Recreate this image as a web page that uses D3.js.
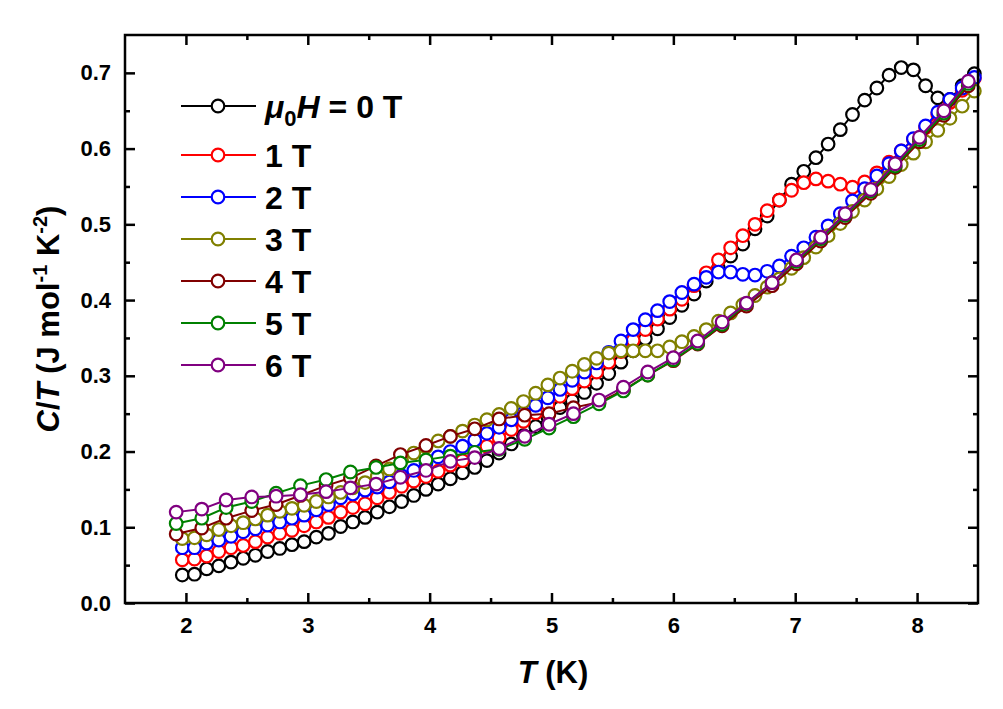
<!DOCTYPE html>
<html>
<head>
<meta charset="utf-8">
<script src="https://cdn.jsdelivr.net/npm/d3@7"></script>
<style>
  body { margin: 0; background: #fff; }
  text { font-family: "Liberation Sans", Arial, sans-serif; font-weight: bold; }
</style>
</head>
<body>
<svg id="chart" width="1003" height="709"></svg>
<script>
// temperatures (K): 0.1 K steps for 0-3 T, 0.2 K steps for 4-6 T
const tempsFine = [1.97, 2.07, 2.17, 2.27, 2.37, 2.47, 2.57, 2.67, 2.77, 2.87,
  2.97, 3.07, 3.17, 3.27, 3.37, 3.47, 3.57, 3.67, 3.77, 3.87,
  3.97, 4.07, 4.17, 4.27, 4.37, 4.47, 4.57, 4.67, 4.77, 4.87,
  4.97, 5.07, 5.17, 5.27, 5.37, 5.47, 5.57, 5.67, 5.77, 5.87,
  5.97, 6.07, 6.17, 6.27, 6.37, 6.47, 6.57, 6.67, 6.77, 6.87,
  6.97, 7.07, 7.17, 7.27, 7.37, 7.47, 7.57, 7.67, 7.77, 7.87,
  7.97, 8.07, 8.17, 8.27, 8.37, 8.47];
const tempsCoarse = [1.92, 2.13, 2.33, 2.54, 2.74, 2.94, 3.15, 3.35, 3.56, 3.76,
  3.97, 4.17, 4.37, 4.57, 4.78, 4.98, 5.18, 5.39, 5.59, 5.79,
  6.00, 6.20, 6.40, 6.60, 6.81, 7.01, 7.21, 7.41, 7.62, 7.82,
  8.02, 8.22, 8.42];

// C/T (J mol^-1 K^-2)
const ct0T = [0.037, 0.038, 0.045, 0.049, 0.054, 0.059, 0.063, 0.068, 0.072, 0.077,
  0.081, 0.087, 0.092, 0.101, 0.107, 0.113, 0.120, 0.127, 0.134, 0.142,
  0.150, 0.157, 0.164, 0.172, 0.179, 0.188, 0.198, 0.210, 0.221, 0.233,
  0.246, 0.258, 0.267, 0.278, 0.290, 0.303, 0.318, 0.333, 0.349, 0.362,
  0.377, 0.393, 0.408, 0.425, 0.442, 0.458, 0.474, 0.494, 0.511, 0.532,
  0.553, 0.570, 0.588, 0.606, 0.625, 0.645, 0.664, 0.680, 0.697, 0.707,
  0.704, 0.683, 0.667, 0.665, 0.683, 0.699];
const ct1T = [0.057, 0.058, 0.062, 0.068, 0.073, 0.076, 0.081, 0.087, 0.092, 0.096,
  0.102, 0.107, 0.113, 0.120, 0.126, 0.131, 0.139, 0.146, 0.154, 0.161,
  0.167, 0.174, 0.182, 0.188, 0.197, 0.207, 0.218, 0.229, 0.240, 0.251,
  0.262, 0.273, 0.283, 0.293, 0.305, 0.318, 0.332, 0.347, 0.361, 0.375,
  0.388, 0.401, 0.419, 0.436, 0.453, 0.469, 0.485, 0.500, 0.518, 0.532,
  0.545, 0.555, 0.560, 0.557, 0.553, 0.549, 0.556, 0.568, 0.582, 0.597,
  0.612, 0.628, 0.645, 0.661, 0.677, 0.693];
const ct2T = [0.073, 0.073, 0.079, 0.083, 0.088, 0.094, 0.098, 0.103, 0.107, 0.112,
  0.116, 0.123, 0.130, 0.139, 0.144, 0.149, 0.153, 0.160, 0.168, 0.175,
  0.185, 0.193, 0.200, 0.207, 0.215, 0.224, 0.232, 0.242, 0.251, 0.261,
  0.271, 0.282, 0.294, 0.305, 0.317, 0.331, 0.346, 0.361, 0.374, 0.386,
  0.398, 0.410, 0.421, 0.430, 0.437, 0.437, 0.434, 0.433, 0.438, 0.445,
  0.458, 0.469, 0.483, 0.498, 0.514, 0.531, 0.547, 0.564, 0.580, 0.597,
  0.613, 0.630, 0.648, 0.665, 0.680, 0.694];
const ct3T = [0.085, 0.086, 0.090, 0.097, 0.102, 0.106, 0.111, 0.116, 0.121, 0.125,
  0.129, 0.134, 0.140, 0.146, 0.152, 0.159, 0.167, 0.177, 0.188, 0.198,
  0.206, 0.214, 0.220, 0.227, 0.235, 0.242, 0.249, 0.257, 0.266, 0.277,
  0.288, 0.297, 0.306, 0.315, 0.323, 0.330, 0.333, 0.333, 0.333, 0.333,
  0.338, 0.345, 0.352, 0.361, 0.372, 0.383, 0.394, 0.406, 0.417, 0.428,
  0.442, 0.456, 0.470, 0.485, 0.501, 0.517, 0.532, 0.547, 0.563, 0.579,
  0.594, 0.609, 0.624, 0.640, 0.656, 0.676];
const ct4T = [0.091, 0.099, 0.112, 0.122, 0.130, 0.142, 0.155, 0.165, 0.181, 0.196,
  0.208, 0.220, 0.230, 0.243, 0.248, 0.250, 0.258, 0.265, 0.281, 0.301,
  0.320, 0.342, 0.366, 0.392, 0.419, 0.448, 0.478, 0.509, 0.541, 0.575,
  0.609, 0.644, 0.683];
const ct5T = [0.105, 0.112, 0.126, 0.134, 0.145, 0.155, 0.163, 0.173, 0.179, 0.185,
  0.189, 0.194, 0.199, 0.203, 0.216, 0.231, 0.246, 0.263, 0.280, 0.301,
  0.321, 0.343, 0.368, 0.395, 0.423, 0.451, 0.481, 0.512, 0.544, 0.577,
  0.612, 0.647, 0.686];
const ct6T = [0.120, 0.124, 0.136, 0.140, 0.141, 0.143, 0.147, 0.152, 0.157, 0.166,
  0.175, 0.187, 0.192, 0.204, 0.220, 0.236, 0.250, 0.268, 0.285, 0.305,
  0.324, 0.346, 0.371, 0.396, 0.423, 0.453, 0.483, 0.514, 0.546, 0.580,
  0.615, 0.650, 0.689];

const fieldLabels = ["0 T", "1 T", "2 T", "3 T", "4 T", "5 T", "6 T"];
const colors = ["#000000", "#ff0000", "#0000ff", "#808000", "#800000", "#008000", "#800080"];

const xTicks = [2, 3, 4, 5, 6, 7, 8];
const xMinor = [2.5, 3.5, 4.5, 5.5, 6.5, 7.5];
const yTicks = [0, 0.1, 0.2, 0.3, 0.4, 0.5, 0.6, 0.7];
const yMinor = [0.05, 0.15, 0.25, 0.35, 0.45, 0.55, 0.65];

const series = [
  { temps: tempsFine, vals: ct0T },
  { temps: tempsFine, vals: ct1T },
  { temps: tempsFine, vals: ct2T },
  { temps: tempsFine, vals: ct3T },
  { temps: tempsCoarse, vals: ct4T },
  { temps: tempsCoarse, vals: ct5T },
  { temps: tempsCoarse, vals: ct6T }
];

// plot box
const boxLeft = 125, boxRight = 978, boxTop = 35, boxBottom = 603;

const svg = d3.select("#chart");

const x = d3.scaleLinear().domain([1.5, 8.5]).range([boxLeft, boxRight]);
const y = d3.scaleLinear().domain([0, 0.75]).range([boxBottom, boxTop]);

// axes with inward ticks on all four sides
function styleAxis(g) {
  g.select(".domain").remove();
  g.selectAll(".tick line").attr("stroke", "#000").attr("stroke-width", 2.5);
  g.selectAll(".tick text").attr("fill", "#000").style("font-size", "22px");
}

svg.append("g").attr("transform", `translate(0,${boxBottom})`)
  .call(d3.axisBottom(x).tickValues(xTicks).tickSize(-10).tickPadding(14).tickFormat(d3.format("d")))
  .call(styleAxis);
svg.append("g").attr("transform", `translate(0,${boxBottom})`)
  .call(d3.axisBottom(x).tickValues(xMinor).tickSize(-5).tickFormat(""))
  .call(styleAxis);
svg.append("g").attr("transform", `translate(0,${boxTop})`)
  .call(d3.axisTop(x).tickValues(xTicks).tickSize(-10).tickFormat(""))
  .call(styleAxis);
svg.append("g").attr("transform", `translate(0,${boxTop})`)
  .call(d3.axisTop(x).tickValues(xMinor).tickSize(-5).tickFormat(""))
  .call(styleAxis);

svg.append("g").attr("transform", `translate(${boxLeft},0)`)
  .call(d3.axisLeft(y).tickValues(yTicks).tickSize(-10).tickPadding(14).tickFormat(d3.format(".1f")))
  .call(styleAxis);
svg.append("g").attr("transform", `translate(${boxLeft},0)`)
  .call(d3.axisLeft(y).tickValues(yMinor).tickSize(-5).tickFormat(""))
  .call(styleAxis);
svg.append("g").attr("transform", `translate(${boxRight},0)`)
  .call(d3.axisRight(y).tickValues(yTicks).tickSize(-10).tickFormat(""))
  .call(styleAxis);
svg.append("g").attr("transform", `translate(${boxRight},0)`)
  .call(d3.axisRight(y).tickValues(yMinor).tickSize(-5).tickFormat(""))
  .call(styleAxis);

// data: each series draws its line, then its symbols
const line = d3.line().x(d => x(d[0])).y(d => y(d[1]));

series.forEach((s, i) => {
  const pts = s.temps.map((t, k) => [t, s.vals[k]]);
  const g = svg.append("g");
  g.append("path")
    .attr("d", line(pts))
    .attr("fill", "none")
    .attr("stroke", colors[i])
    .attr("stroke-width", 2);
  g.selectAll("circle")
    .data(pts)
    .enter()
    .append("circle")
    .attr("cx", d => x(d[0]))
    .attr("cy", d => y(d[1]))
    .attr("r", 6.3)
    .attr("fill", "#fff")
    .attr("stroke", colors[i])
    .attr("stroke-width", 2.2);
});

// frame
svg.append("rect")
  .attr("x", boxLeft).attr("y", boxTop)
  .attr("width", boxRight - boxLeft).attr("height", boxBottom - boxTop)
  .attr("fill", "none")
  .attr("stroke", "#000")
  .attr("stroke-width", 2.5);

// axis titles
const xTitle = svg.append("text")
  .attr("x", 553).attr("y", 683)
  .attr("text-anchor", "middle")
  .style("font-size", "31px");
xTitle.append("tspan").style("font-style", "italic").text("T");
xTitle.append("tspan").text(" (K)");

const yTitle = svg.append("text")
  .attr("transform", "translate(59,319) rotate(-90)")
  .attr("text-anchor", "middle")
  .style("font-size", "31px");
yTitle.append("tspan").style("font-style", "italic").text("C");
yTitle.append("tspan").text("/");
yTitle.append("tspan").style("font-style", "italic").text("T");
yTitle.append("tspan").text(" (J mol");
yTitle.append("tspan").attr("dy", -12).style("font-size", "20px").text("-1");
yTitle.append("tspan").attr("dy", 12).text(" K");
yTitle.append("tspan").attr("dy", -12).style("font-size", "20px").text("-2");
yTitle.append("tspan").attr("dy", 12).text(")");

// legend
const legend = svg.selectAll(".legend")
  .data(fieldLabels)
  .enter()
  .append("g")
  .attr("class", "legend")
  .attr("transform", (d, i) => `translate(181,${i === 0 ? 106 : 155 + (i - 1) * 42})`);

legend.append("line")
  .attr("x1", 0).attr("x2", 75)
  .attr("stroke", (d, i) => colors[i])
  .attr("stroke-width", 2);
legend.append("circle")
  .attr("cx", 37).attr("r", 6.3)
  .attr("fill", "#fff")
  .attr("stroke", (d, i) => colors[i])
  .attr("stroke-width", 2.2);

legend.each(function(d, i) {
  const t = d3.select(this).append("text")
    .attr("x", 84).attr("dy", "0.36em")
    .style("font-size", "32px");
  if (i === 0) {
    t.append("tspan").style("font-style", "italic").text("\u03bc");
    t.append("tspan").attr("dy", 8).style("font-size", "22px").text("0");
    t.append("tspan").attr("dy", -8).style("font-style", "italic").text("H");
    t.append("tspan").text(" = " + d);
  } else {
    t.text(d);
  }
});
</script>
</body>
</html>
